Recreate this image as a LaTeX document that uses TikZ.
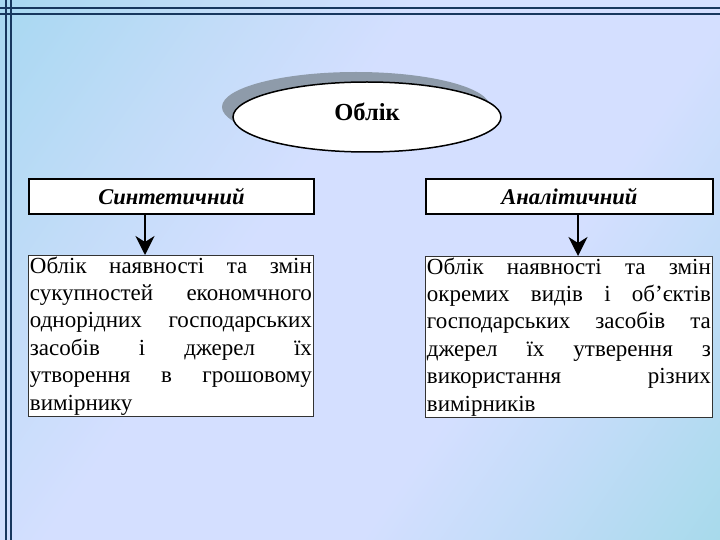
\documentclass[tikz,border=0pt]{standalone}
\usepackage{fontspec}
\setmainfont{Liberation Serif}
\usetikzlibrary{arrows.meta,shapes.geometric,calc}
\definecolor{bgA}{HTML}{8CD4EA}
\definecolor{bgB}{HTML}{C2DCF8}
\definecolor{bgL}{HTML}{D4DFFF}
\definecolor{bgC}{HTML}{88D8DC}
\definecolor{frameC}{HTML}{17375E}
\definecolor{shadowC}{HTML}{8E9BAA}
\pgfdeclarehorizontalshading{bgshade}{100bp}{color(0bp)=(bgA); color(30bp)=(bgB); color(42bp)=(bgL); color(62bp)=(bgL); color(72bp)=(bgB); color(100bp)=(bgC)}
\newcommand{\bodyfont}{\fontsize{23}{27.4}\selectfont\baselineskip=27.4pt\lineskiplimit=-100pt\relax}
\tikzset{
  titlebox/.style={draw=black, line width=1.8pt, fill=white, minimum width=285pt, minimum height=35pt, inner sep=0pt, anchor=north west, font=\fontsize{22.5}{26}\selectfont\bfseries\itshape},
  textbox/.style={draw=black!80, line width=0.8pt, fill=white, minimum height=161pt, inner xsep=1.5pt, inner ysep=0pt, anchor=north west},
  arr/.style={line width=1.8pt, -{Stealth[length=19pt,width=19pt,inset=6pt]}},
  frameline/.style={draw=frameC, line width=2pt}
}
\begin{document}
\begin{tikzpicture}[x=1pt,y=-1pt]
\useasboundingbox (0,0) rectangle (720,540);
\shade[shading=bgshade, shading angle=-35] (0,0) rectangle (720,540);
% frame lines
\draw[frameline] (5.5,0) -- (5.5,540);
\draw[frameline] (10.5,0) -- (10.5,540);
\draw[frameline] (0,8.5) -- (720,8.5);
\draw[frameline] (0,14.5) -- (720,14.5);
% ellipse
\fill[shadowC] (356,107) ellipse [x radius=134, y radius=35];
\node[ellipse, draw=black, line width=1.5pt, fill=white, minimum width=268pt, minimum height=70pt, inner sep=0pt] (oblik) at (367,117) {};
\node[font=\fontsize{24.5}{26}\selectfont\bfseries] (oblikt) at (367,112) {Облік};
% title boxes
\node[titlebox] (syn) at (28,178) {Синтетичний};
\node[titlebox, minimum width=287pt] (an) at (425,178) {Аналітичний};
% text boxes
\node[textbox, text width=282pt] (syntext) at (28,255) {\bodyfont
\hbox to 282pt{Облік\hfill наявності\hfill та\hfill змін}
\hbox to 282pt{сукупностей\hfill економчного}
\hbox to 282pt{однорідних\hfill господарських}
\hbox to 282pt{засобів\hfill і\hfill джерел\hfill їх}
\hbox to 282pt{утворення\hfill в\hfill грошовому}
\hbox{вимірнику}\par};
\node[textbox, text width=284pt] (antext) at (425,256) {\bodyfont
\hbox to 284pt{Облік\hfill наявності\hfill та\hfill змін}
\hbox to 284pt{окремих\hfill видів\hfill і\hfill об’єктів}
\hbox to 284pt{господарських\hfill засобів\hfill та}
\hbox to 284pt{джерел\hfill їх\hfill утверення\hfill з}
\hbox to 284pt{використання\hfill різних}
\hbox{вимірників}\par};
% arrows
\coordinate (ax1) at (145,0);
\coordinate (ax2) at (578,0);
\draw[arr] (syn.south -| ax1) -- (syntext.north -| ax1);
\draw[arr] (an.south -| ax2) -- (antext.north -| ax2);
\end{tikzpicture}
\end{document}
